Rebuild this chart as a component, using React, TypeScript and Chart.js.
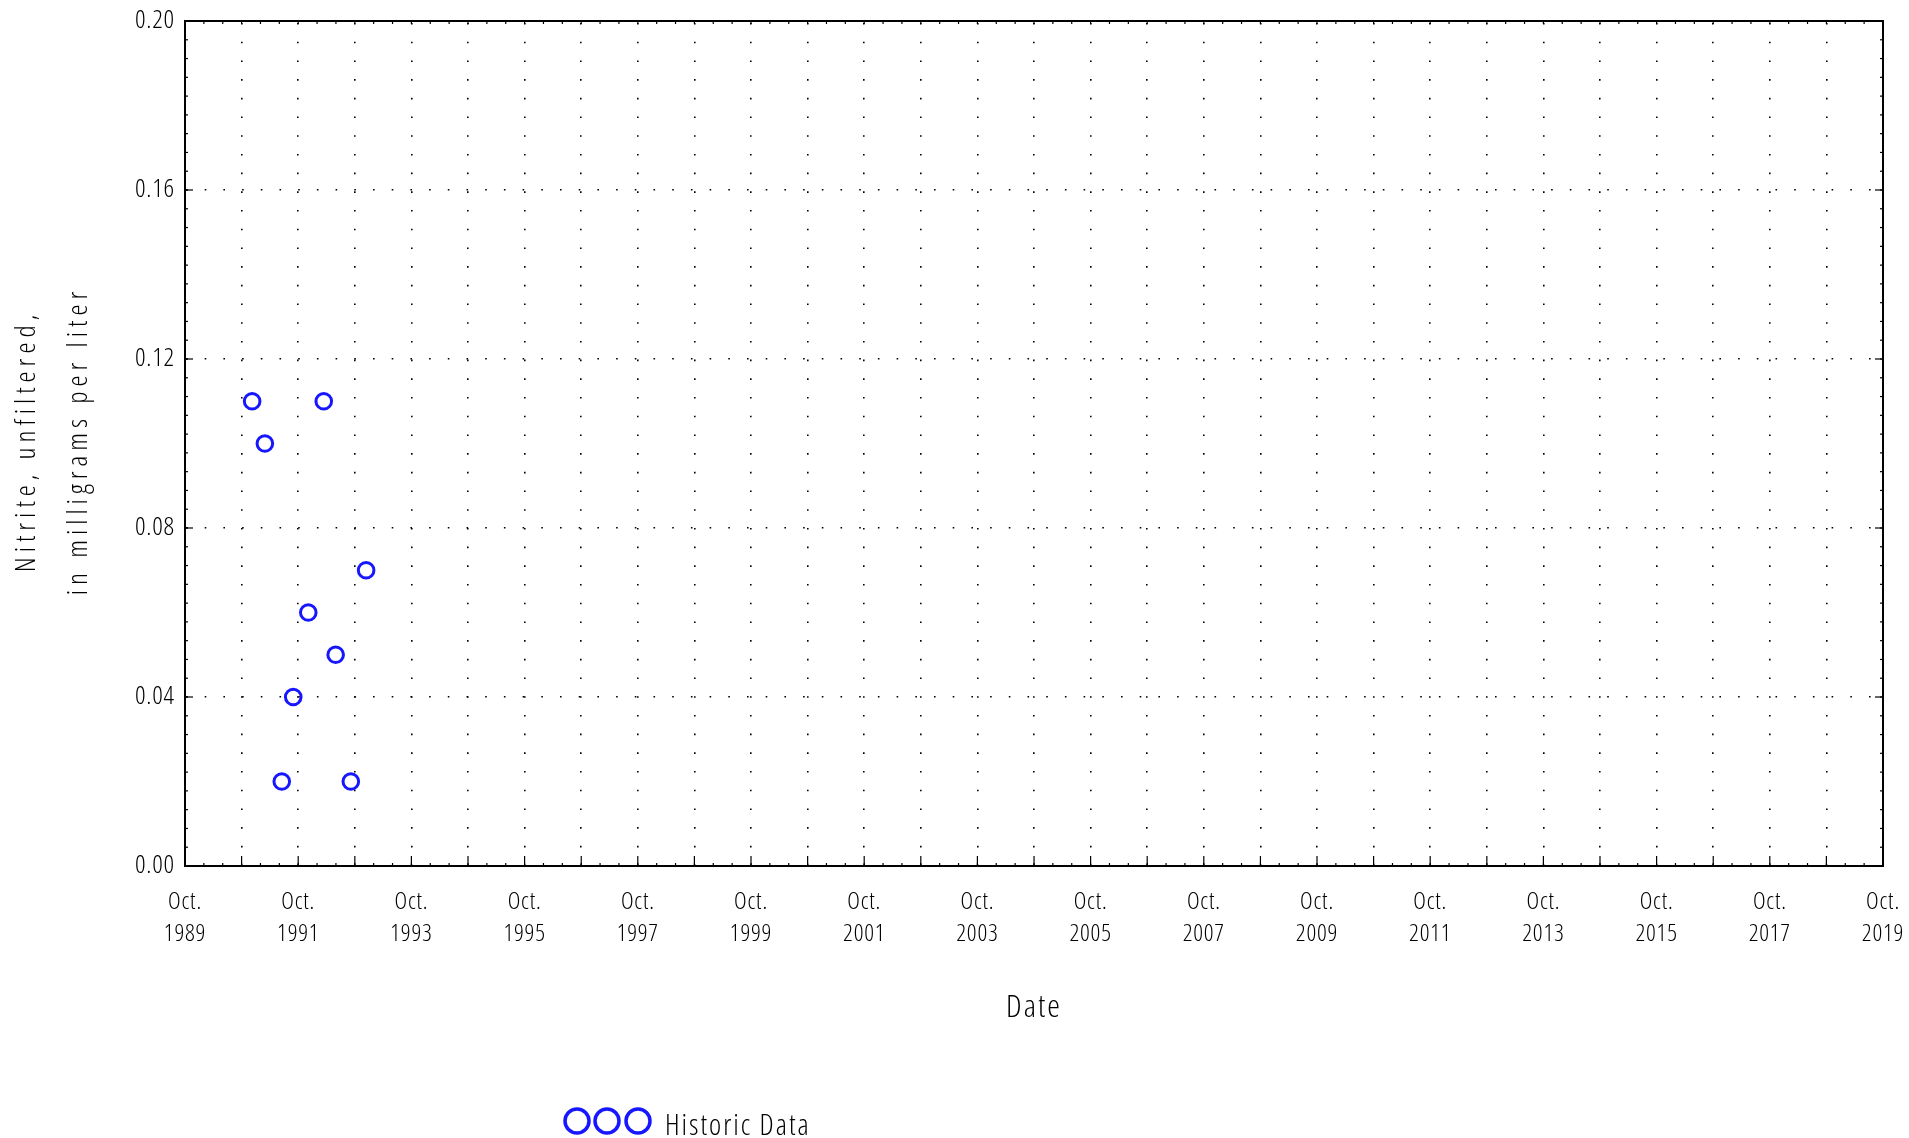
import React, { useEffect, useRef } from "react";
import { Chart, registerables } from "chart.js";

Chart.register(...registerables);

// ---- data ----
const sampleDates = [
  "1990-12-08",
  "1991-02-28",
  "1991-06-17",
  "1991-08-30",
  "1991-12-05",
  "1992-03-14",
  "1992-05-30",
  "1992-09-05",
  "1992-12-13",
];
const nitriteValues = [0.11, 0.1, 0.02, 0.04, 0.06, 0.11, 0.05, 0.02, 0.07];

const axisStartDate = "1989-10-01";
const axisEndDate = "2019-10-01";
const gridYears = [
  1989, 1990, 1991, 1992, 1993, 1994, 1995, 1996, 1997, 1998, 1999, 2000, 2001,
  2002, 2003, 2004, 2005, 2006, 2007, 2008, 2009, 2010, 2011, 2012, 2013, 2014,
  2015, 2016, 2017, 2018, 2019,
];
const labeledYears = [
  1989, 1991, 1993, 1995, 1997, 1999, 2001, 2003, 2005, 2007, 2009, 2011, 2013,
  2015, 2017, 2019,
];
const monthLabel = "Oct.";
const yTickValues = [0, 0.04, 0.08, 0.12, 0.16, 0.2];
const yTitleLines = ["Nitrite, unfiltered,", "in milligrams per liter"];
const xTitle = "Date";
const legendLabel = "Historic Data";

const FAMILY = "'Open Sans', 'Roboto Condensed', sans-serif";
const WEIGHT = "300 condensed";
const BLUE = "#1616ff";

function toYear(iso: string): number {
  const d = new Date(iso + "T00:00:00Z");
  const y = d.getUTCFullYear();
  const start = Date.UTC(y, 0, 1);
  const next = Date.UTC(y + 1, 0, 1);
  return y + (d.getTime() - start) / (next - start);
}

const framePlugin = {
  id: "framePlugin",
  beforeDraw(chart: any) {
    chart.ctx.letterSpacing = "2px";
  },
  afterDatasetsDraw(chart: any) {
    chart.ctx.letterSpacing = "0.8px";
  },
  afterDraw(chart: any) {
    const { ctx, chartArea: a, scales } = chart;
    const x = scales.x;
    const y = scales.y;
    ctx.save();
    ctx.letterSpacing = "0px";
    ctx.strokeStyle = "#000";
    ctx.lineWidth = 1.2;
    const seg = (x1: number, y1: number, x2: number, y2: number) => {
      ctx.beginPath();
      ctx.moveTo(x1, y1);
      ctx.lineTo(x2, y2);
      ctx.stroke();
    };
    // major inward ticks
    x.ticks.forEach((t: any) => {
      const px = x.getPixelForValue(t.value);
      seg(px, a.bottom, px, a.bottom - 10);
    });
    y.ticks.forEach((t: any) => {
      const py = y.getPixelForValue(t.value);
      seg(a.left, py, a.left + 8, py);
      seg(a.right, py, a.right - 8, py);
    });
    // minor ticks
    const xMin = x.min;
    const xMax = x.max;
    const nx = Math.round((xMax - xMin) * 3);
    for (let k = 1; k < nx; k++) {
      const px = x.getPixelForValue(xMin + ((xMax - xMin) * k) / nx);
      seg(px, a.bottom, px, a.bottom - 3);
      seg(px, a.top, px, a.top + 3);
    }
    const ny = 45;
    for (let k = 1; k < ny; k++) {
      const py = y.getPixelForValue((y.max - y.min) * (k / ny) + y.min);
      seg(a.left, py, a.left + 3, py);
      seg(a.right, py, a.right - 3, py);
    }
    ctx.lineWidth = 2;
    ctx.strokeRect(a.left, a.top, a.right - a.left, a.bottom - a.top);

    // y-axis title (two rotated lines)
    ctx.fillStyle = "#000";
    ctx.font = `${WEIGHT} 28px ${FAMILY}`;
    ctx.letterSpacing = "5px";
    ctx.textAlign = "center";
    ctx.textBaseline = "middle";
    const centerY = (a.top + a.bottom) / 2;
    yTitleLines.forEach((line, i) => {
      ctx.save();
      ctx.translate(27 + i * 52, centerY);
      ctx.rotate(-Math.PI / 2);
      ctx.fillText(line, 2.5, 0);
      ctx.restore();
    });
    ctx.restore();
  },
};

export default function App() {
  const canvasRef = useRef<HTMLCanvasElement | null>(null);

  useEffect(() => {
    const canvas = canvasRef.current;
    if (!canvas) return;
    const points = sampleDates.map((d, i) => ({ x: toYear(d), y: nitriteValues[i] }));
    const chart = new Chart(canvas, {
      type: "scatter",
      data: {
        datasets: [
          {
            label: legendLabel,
            data: points,
            showLine: false,
            pointStyle: "circle",
            pointRadius: 7.8,
            pointHoverRadius: 7.8,
            pointBorderWidth: 3,
            pointBorderColor: BLUE,
            pointBackgroundColor: "rgba(0,0,0,0)",
          },
        ],
      },
      options: {
        animation: false,
        responsive: true,
        maintainAspectRatio: false,
        layout: { padding: { left: 0, top: 21, right: 26, bottom: 0 } },
        plugins: {
          legend: { display: false },
          tooltip: { enabled: false },
        },
        events: [],
        scales: {
          x: {
            type: "linear",
            position: "bottom",
            min: toYear(axisStartDate),
            max: toYear(axisEndDate),
            afterBuildTicks: (s: any) => {
              s.ticks = gridYears.map((yr) => ({ value: toYear(`${yr}-10-01`) }));
            },
            afterFit: (s: any) => {
              s.height = 272;
              s.paddingLeft = 0;
              s.paddingRight = 0;
            },
            ticks: {
              autoSkip: false,
              maxRotation: 0,
              minRotation: 0,
              padding: 21,
              z: 1,
              color: "#000",
              font: { family: FAMILY, weight: WEIGHT, size: 24, lineHeight: 1.3 },
              callback: (_v: any, i: number) => {
                const yr = gridYears[i];
                return labeledYears.includes(yr) ? [monthLabel, String(yr)] : "";
              },
            },
            grid: { display: true, drawTicks: false, tickLength: 0, color: "#000", lineWidth: 1.6 },
            border: { display: false, dash: [1.6, 17.1], dashOffset: -2 },
            title: {
              display: true,
              text: xTitle,
              color: "#000",
              font: { family: FAMILY, weight: WEIGHT, size: 32, lineHeight: 1.2 },
              padding: { top: 0, bottom: 111 },
            },
          },
          y: {
            type: "linear",
            position: "left",
            min: 0,
            max: 0.2,
            afterBuildTicks: (s: any) => {
              s.ticks = yTickValues.map((v) => ({ value: v }));
            },
            afterFit: (s: any) => {
              s.width = 185;
              s.paddingTop = 0;
              s.paddingBottom = 0;
            },
            ticks: {
              padding: 10,
              z: 1,
              color: "#000",
              font: { family: FAMILY, weight: WEIGHT, size: 26 },
              callback: (v: any) => Number(v).toFixed(2),
            },
            grid: { display: true, drawTicks: false, tickLength: 0, color: "#000", lineWidth: 1.6 },
            border: { display: false, dash: [1.6, 17.1], dashOffset: -1 },
            title: { display: false },
          },
        },
      },
      plugins: [framePlugin],
    } as any);
    return () => chart.destroy();
  }, []);

  return (
    <div style={{ position: "fixed", left: 0, top: 0, width: 1909, height: 1138, background: "#fff" }}>
      <canvas ref={canvasRef} style={{ width: "100%", height: "100%" }} />
      <div style={{ position: "absolute", left: 562, top: 1105, height: 32, display: "flex", alignItems: "center" }}>
        <svg width={92} height={32} style={{ display: "block" }}>
          {[15, 45, 76].map((cx) => (
            <circle key={cx} cx={cx} cy={16} r={12} fill="none" stroke={BLUE} strokeWidth={3.5} />
          ))}
        </svg>
        <span
          style={{
            marginLeft: 11,
            marginTop: 6,
            fontFamily: FAMILY,
            fontWeight: 300,
            fontStretch: "condensed",
            fontSize: 29,
            letterSpacing: "2px",
            color: "#000",
            lineHeight: "32px",
          }}
        >
          {legendLabel}
        </span>
      </div>
    </div>
  );
}
